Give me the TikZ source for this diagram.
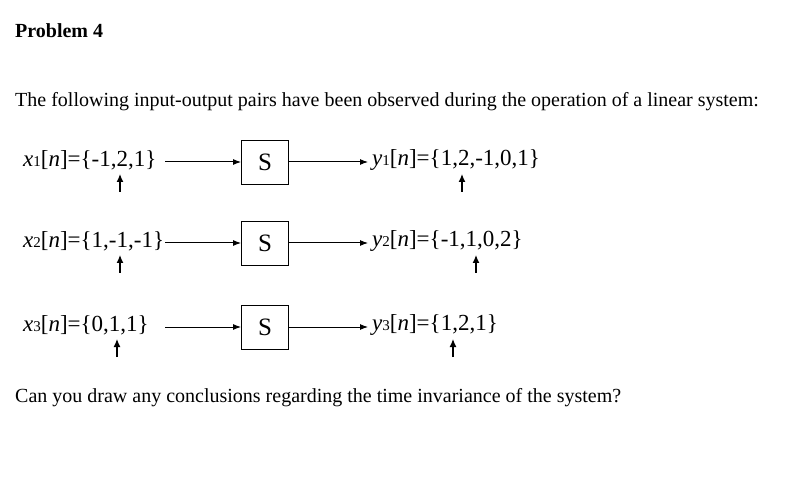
\documentclass[tikz,border=0pt]{standalone}
\usepackage{fontspec}
\setmainfont{Liberation Serif}
\usetikzlibrary{arrows.meta}
\newcommand{\mysub}[1]{{\fontsize{15}{16}\selectfont #1}}
\begin{document}
\begin{tikzpicture}[x=1pt,y=-1pt,
  blk/.style={draw,line width=0.9pt,minimum width=47pt,minimum height=44pt,inner sep=0pt,font=\fontsize{25}{28}\selectfont},
  seq/.style={inner sep=0pt,font=\fontsize{23}{26}\selectfont},
  txt/.style={inner sep=0pt,anchor=base west,font=\fontsize{20}{24}\selectfont},
  con/.style={-{Latex[length=8pt,width=6pt]},line width=1pt},
  up/.style={-{Latex[length=8pt,width=7pt]},line width=1.3pt}]
\useasboundingbox (0,0) rectangle (792,486);
\node[txt,font=\fontsize{20}{24}\selectfont\bfseries] (title) at (15,38) {Problem 4};
\node[txt] (intro) at (15,107) {The following input-output pairs have been observed during the operation of a linear system:};
\node[txt] (q) at (15,402) {Can you draw any conclusions regarding the time invariance of the system?};
% row 1
\node[seq,anchor=west] (x1) at (23,160) {\textit{x}\mysub{1}[\textit{n}]=\{-1,2,1\}};
\node[blk] (s1) at (265,162) {S};
\node[seq,anchor=west] (y1) at (372,160) {\textit{y}\mysub{1}[\textit{n}]=\{1,2,-1,0,1\}};
\coordinate (x1a) at (165,162); \coordinate (y1a) at (368,162);
\draw[con] (x1a) -- (s1.west);
\draw[con] (s1.east) -- (y1a);
\coordinate (u1a) at (120,192); \coordinate (u1b) at (120,174);
\draw[up] (u1a) -- (u1b);
\coordinate (v1a) at (462,192); \coordinate (v1b) at (462,174);
\draw[up] (v1a) -- (v1b);
% row 2
\node[seq,anchor=west] (x2) at (23,241) {\textit{x}\mysub{2}[\textit{n}]=\{1,-1,-1\}};
\node[blk] (s2) at (265,243) {S};
\node[seq,anchor=west] (y2) at (372,241) {\textit{y}\mysub{2}[\textit{n}]=\{-1,1,0,2\}};
\coordinate (x2a) at (165,243); \coordinate (y2a) at (368,243);
\draw[con] (x2a) -- (s2.west);
\draw[con] (s2.east) -- (y2a);
\coordinate (u2a) at (120,273); \coordinate (u2b) at (120,255);
\draw[up] (u2a) -- (u2b);
\coordinate (v2a) at (476,273); \coordinate (v2b) at (476,255);
\draw[up] (v2a) -- (v2b);
% row 3
\node[seq,anchor=west] (x3) at (23,325) {\textit{x}\mysub{3}[\textit{n}]=\{0,1,1\}};
\node[blk] (s3) at (265,327) {S};
\node[seq,anchor=west] (y3) at (372,325) {\textit{y}\mysub{3}[\textit{n}]=\{1,2,1\}};
\coordinate (x3a) at (165,327); \coordinate (y3a) at (368,327);
\draw[con] (x3a) -- (s3.west);
\draw[con] (s3.east) -- (y3a);
\coordinate (u3a) at (117,357); \coordinate (u3b) at (117,339);
\draw[up] (u3a) -- (u3b);
\coordinate (v3a) at (453,357); \coordinate (v3b) at (453,339);
\draw[up] (v3a) -- (v3b);
\end{tikzpicture}
\end{document}
